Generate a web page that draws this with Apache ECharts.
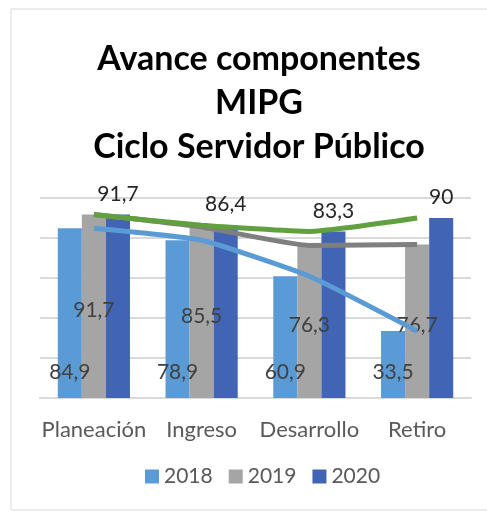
<!DOCTYPE html>
<html>
<head>
<meta charset="utf-8">
<script src="https://cdn.jsdelivr.net/npm/echarts@6/dist/echarts.min.js"></script>
<style>
  html, body { margin: 0; padding: 0; background: #fff; }
  #chart { width: 487px; height: 513px; }
</style>
</head>
<body>
<div id="chart"></div>
<script>
var categories = ['Planeación', 'Ingreso', 'Desarrollo', 'Retiro'];
var years = ['2018', '2019', '2020'];
var values2018 = [84.9, 78.9, 60.9, 33.5];
var values2019 = [91.7, 85.5, 76.3, 76.7];
var values2020 = [91.7, 86.4, 83.3, 90];

var fmt = function (p) { return String(p.value).replace('.', ','); };
var font = 'Lato, "Open Sans", sans-serif';

var myChart = echarts.init(document.getElementById('chart'));
var option = {
  animation: false,
  textStyle: { fontFamily: font },
  title: {
    text: 'Avance componentes\nMIPG\nCiclo Servidor Público',
    left: 254,
    top: 32,
    textAlign: 'center',
    textStyle: { fontSize: 34, fontWeight: 'bold', color: '#000', lineHeight: 44, fontFamily: font }
  },
  graphic: [{
    type: 'rect',
    shape: { x: 11, y: 9, width: 490, height: 501 },
    style: { fill: 'none', stroke: '#d9d9d9', lineWidth: 1 },
    silent: true
  }],
  legend: {
    data: years,
    left: 140,
    top: 461,
    itemWidth: 14,
    itemHeight: 14,
    itemGap: 16,
    icon: 'rect',
    textStyle: { fontSize: 21, color: '#595959', fontFamily: font }
  },
  grid: { left: 40, right: 16, top: 198, bottom: 115 },
  xAxis: {
    type: 'category',
    data: categories,
    axisTick: { show: false },
    axisLine: { lineStyle: { color: '#d9d9d9', width: 2 } },
    axisLabel: { interval: 0, fontSize: 22, color: '#595959', margin: 21, fontFamily: font }
  },
  yAxis: {
    type: 'value',
    min: 0, max: 100, interval: 20,
    axisLabel: { show: false },
    axisLine: { show: false },
    axisTick: { show: false },
    splitLine: { lineStyle: { color: '#d9d9d9', width: 2 } }
  },
  series: [
    {
      name: '2018', type: 'bar', data: values2018, barGap: 0, barCategoryGap: '33%',
      itemStyle: { color: '#5B9BD5' },
      label: { show: true, position: 'insideBottom', distance: 15, fontSize: 21, color: '#404040', formatter: fmt }
    },
    {
      name: '2019', type: 'bar', data: values2019,
      itemStyle: { color: '#A5A5A5' },
      label: { show: true, position: 'inside', offset: [0, 4], fontSize: 21, color: '#404040', formatter: fmt }
    },
    {
      name: '2020', type: 'bar', data: values2020,
      itemStyle: { color: '#4165B4' },
      label: { show: true, position: 'top', distance: 10, fontSize: 21, color: '#262626', formatter: fmt }
    },
    {
      name: 'l2018', type: 'line', data: values2018, smooth: 0.15, showSymbol: false, z: 5,
      lineStyle: { color: '#5B9BD5', width: 5 }
    },
    {
      name: 'l2019', type: 'line', data: values2019, smooth: 0.15, showSymbol: false, z: 5,
      lineStyle: { color: '#7F7F7F', width: 5 }
    },
    {
      name: 'l2020', type: 'line', data: values2020, smooth: 0.15, showSymbol: false, z: 5,
      lineStyle: { color: '#62A03F', width: 5 }
    }
  ]
};
myChart.setOption(option);
</script>
</body>
</html>
